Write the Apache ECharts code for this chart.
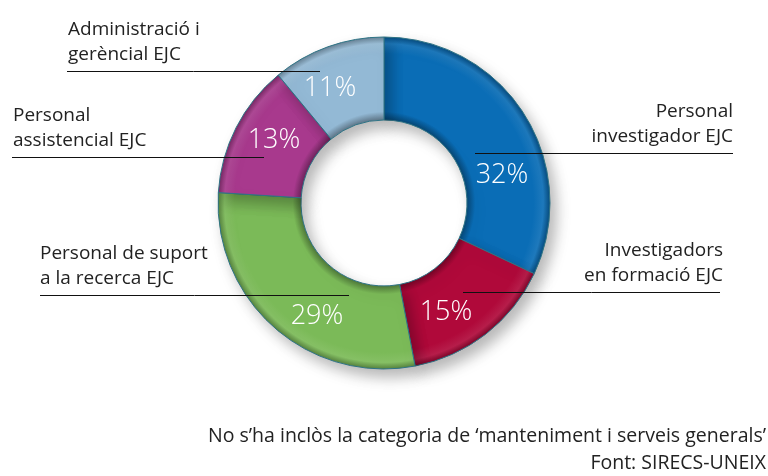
<!DOCTYPE html>
<html>
<head>
<meta charset="utf-8">
<script src="https://cdn.jsdelivr.net/npm/echarts@6/dist/echarts.min.js"></script>
<style>
  html, body { margin: 0; padding: 0; background: #fff; }
  #chart { width: 768px; height: 476px; }
</style>
</head>
<body>
<div id="chart"></div>
<script>
// data
var categories = ['Personal\ninvestigador EJC', 'Investigadors\nen formació EJC', 'Personal de suport\na la recerca EJC', 'Personal\nassistencial EJC', 'Administració i\ngerèncial EJC'];
var values = [32, 15, 29, 13, 11];
var colors = ['#0a6db6', '#b0093a', '#7bba58', '#a8398d', '#93b9d5'];
var footnotes = ['No s\u2019ha inclòs la categoria de \u2018manteniment i serveis generals\u2019', 'Font: SIRECS-UNEIX'];

// pie geometry (px)
var cx = 384, cy = 203, rIn = 83, rOut = 166;

// where the percent text sits on each slice
var pctPos = [[502, 175], [446, 312], [317, 316], [274, 140], [330, 88]];
// name text + horizontal leader line
var nameLayout = [
  { x: 733, align: 'right', lineY: 153, x1: 475, x2: 733 },
  { x: 723, align: 'right', lineY: 292, x1: 463, x2: 720 },
  { x: 40,  align: 'left',  lineY: 295, x1: 40,  x2: 349 },
  { x: 13,  align: 'left',  lineY: 157, x1: 12,  x2: 264 },
  { x: 68,  align: 'left',  lineY: 71,  x1: 67,  x2: 320 }
];

function shade(hex, f) {
  var n = parseInt(hex.slice(1), 16);
  var r = n >> 16, g = (n >> 8) & 255, b = n & 255;
  function t(c) { return Math.max(0, Math.min(255, Math.round(f < 0 ? c * (1 + f) : c + (255 - c) * f))); }
  return 'rgb(' + t(r) + ',' + t(g) + ',' + t(b) + ')';
}

function bevel(c) {
  var k = rIn / rOut;
  return new echarts.graphic.RadialGradient(cx, cy, rOut, [
    { offset: k, color: shade(c, -0.35) },
    { offset: k + 0.05, color: c },
    { offset: 0.9, color: c },
    { offset: 0.96, color: shade(c, 0.08) },
    { offset: 1, color: shade(c, -0.3) }
  ], true);
}

var pieData = values.map(function (v, i) {
  return { name: categories[i], value: v, itemStyle: { color: bevel(colors[i]) } };
});

var myChart = echarts.init(document.getElementById('chart'));

myChart.setOption({
  animation: false,
  backgroundColor: '#fff',
  series: [
    {
      type: 'pie',
      z: 2,
      center: [cx, cy],
      radius: [rIn, rOut],
      startAngle: 90,
      clockwise: true,
      data: pieData,
      itemStyle: {
        borderColor: '#2f7486',
        borderWidth: 1,
        shadowBlur: 14,
        shadowOffsetX: 6,
        shadowOffsetY: 8,
        shadowColor: 'rgba(0,0,0,0.28)'
      },
      label: {
        show: true,
        position: 'inside',
        formatter: '{c}%',
        color: '#fff',
        fontSize: 27,
        fontWeight: 300,
        fontFamily: 'Open Sans'
      },
      labelLine: { show: false },
      labelLayout: function (p) {
        var q = pctPos[p.dataIndex];
        return { x: q[0], y: q[1], align: 'center', verticalAlign: 'middle' };
      },
      emphasis: { disabled: true }
    },
    {
      // transparent copy only for category names and leader lines
      type: 'pie',
      z: 10,
      center: [cx, cy],
      radius: [rIn, rOut],
      startAngle: 90,
      clockwise: true,
      silent: true,
      data: values.map(function (v, i) { return { name: categories[i], value: v }; }),
      itemStyle: { color: 'rgba(0,0,0,0)' },
      label: {
        show: true,
        position: 'outside',
        formatter: '{b}',
        color: '#222',
        fontSize: 19,
        lineHeight: 25,
        fontFamily: 'Open Sans'
      },
      labelLine: { show: true, lineStyle: { color: '#111', width: 1 } },
      labelLayout: function (p) {
        var L = nameLayout[p.dataIndex];
        var ly = L.lineY + 0.5;
        return {
          x: L.x,
          y: L.lineY - 4,
          align: L.align,
          verticalAlign: 'bottom',
          labelLinePoints: [[L.x1, ly], [(L.x1 + L.x2) / 2, ly], [L.x2, ly]]
        };
      }
    }
  ],
  graphic: footnotes.map(function (t, i) {
    return {
      type: 'text',
      right: 2,
      top: 426 + i * 27,
      style: { text: t, fill: '#222', fontSize: 19.5, fontFamily: 'Open Sans', textAlign: 'right' }
    };
  })
});
</script>
</body>
</html>
